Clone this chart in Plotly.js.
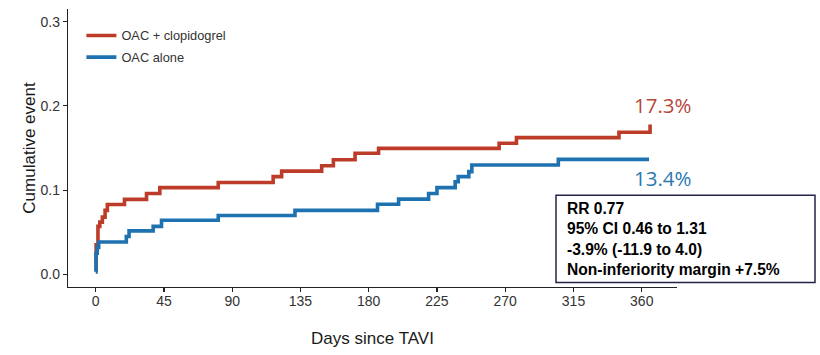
<!DOCTYPE html>
<html>
<head>
<meta charset="utf-8">
<script src="https://cdn.plot.ly/plotly-3.0.1.min.js"></script>
<style>html,body{margin:0;padding:0;background:#fff;}#chart{width:820px;height:355px;}</style>
</head>
<body>
<div id="chart"></div>
<script>
// Series names
var seriesNames = ["OAC + clopidogrel", "OAC alone"];

// OAC + clopidogrel (Kaplan-Meier step curve, days / cumulative event)
var clopiDays   = [0, 0.3, 1.5, 2.7, 4.4, 6.2, 7.7, 19, 33.5, 42.3, 80.8, 117, 122.6, 149, 156.7, 171, 186.5, 266, 277.4, 345, 365.5];
var clopiValues = [0.005, 0.035, 0.057, 0.062, 0.068, 0.076, 0.083, 0.089, 0.096, 0.103, 0.109, 0.116, 0.1226, 0.129, 0.136, 0.1437, 0.1496, 0.1556, 0.1623, 0.1687, 0.178];

// OAC alone
var aloneDays   = [0, 0.2, 1, 2, 20.2, 22, 37.9, 43.4, 80.8, 131.4, 185.8, 199.7, 219.5, 225, 237, 239, 246, 248, 305, 364.8];
var aloneValues = [0.003, 0.025, 0.032, 0.0385, 0.045, 0.0516, 0.057, 0.0643, 0.0698, 0.076, 0.0833, 0.0893, 0.096, 0.103, 0.110, 0.116, 0.122, 0.1298, 0.1365, 0.1365];

// Axis ticks
var xTicks = [0, 45, 90, 135, 180, 225, 270, 315, 360];
var yTicks = [0.0, 0.1, 0.2, 0.3];

// End labels
var endLabels = ["17.3%", "13.4%"];
var endLabelPos = {x: [374, 374], y: [0.201, 0.114]};

// Statistics box text
var statLines = ["RR 0.77", "95% CI 0.46 to 1.31", "-3.9% (-11.9 to 4.0)", "Non-inferiority margin +7.5%"];

var redColor = "#BC3C29";
var blueColor = "#1F72B0";

var traces = [
  {x: clopiDays, y: clopiValues, type: "scatter", mode: "lines", name: seriesNames[0],
   line: {shape: "hv", color: redColor, width: 3.6}, legendgroup: "a"},
  {x: aloneDays, y: aloneValues, type: "scatter", mode: "lines", name: seriesNames[1],
   line: {shape: "hv", color: blueColor, width: 3.6}, legendgroup: "b"}
];

var layout = {
  width: 820, height: 355,
  margin: {l: 68, r: 143, t: 9, b: 68, pad: 0},
  paper_bgcolor: "#ffffff", plot_bgcolor: "#ffffff",
  font: {family: "Liberation Sans, Arial, sans-serif", color: "#333333"},
  showlegend: true,
  legend: {x: 0.022, y: 0.958, xanchor: "left", yanchor: "top",
           font: {size: 12.8, color: "#333333"}, bgcolor: "rgba(0,0,0,0)",
           itemwidth: 30, traceorder: "grouped", tracegroupgap: 2},
  xaxis: {range: [-18.25, 383.25], tickvals: xTicks, ticktext: xTicks.map(String),
          showgrid: false, zeroline: false, showline: true, linecolor: "#222", linewidth: 1.2,
          ticks: "outside", ticklen: 4, tickwidth: 1.2, tickcolor: "#222",
          tickfont: {size: 14, color: "#333"}, ticklabelstandoff: -3,
          title: {text: "Days since TAVI", font: {size: 17, color: "#1a1a1a"}, standoff: 24}},
  yaxis: {range: [-0.015, 0.315], tickvals: yTicks, ticktext: yTicks.map(function(v){return v.toFixed(1);}),
          showgrid: false, zeroline: false, showline: true, linecolor: "#222", linewidth: 1.2,
          ticks: "outside", ticklen: 4, tickwidth: 1.2, tickcolor: "#222",
          tickfont: {size: 14, color: "#333"},
          title: {text: "Cumulative event", font: {size: 17, color: "#1a1a1a"}, standoff: 0}},
  shapes: [
    {type: "rect", xref: "paper", yref: "paper", x0: 0.8013, x1: 1.2266, y0: 0.0166, y1: 0.3304,
     line: {color: "#23234a", width: 1.5}, fillcolor: "#ffffff", layer: "above"}
  ],
  annotations: [
    {x: endLabelPos.x[0], y: endLabelPos.y[0], xref: "x", yref: "y", text: endLabels[0], showarrow: false,
     xanchor: "center", yanchor: "middle", font: {family: "Open Sans, sans-serif", size: 20.5, color: "#B5473A"}},
    {x: endLabelPos.x[1], y: endLabelPos.y[1], xref: "x", yref: "y", text: endLabels[1], showarrow: false,
     xanchor: "center", yanchor: "middle", font: {family: "Open Sans, sans-serif", size: 20.5, color: "#2A78B0"}},
    {x: 0.816, y: 0.1742, xref: "paper", yref: "paper", xanchor: "left", yanchor: "middle", align: "left",
     showarrow: false, text: statLines.map(function(s){return "<b>" + s + "</b>";}).join("<br>"),
     font: {family: "Liberation Sans, Arial, sans-serif", size: 15.6, color: "#000000"}}
  ]
};

Plotly.newPlot("chart", traces, layout, {displayModeBar: false, staticPlot: true});
</script>
</body>
</html>
